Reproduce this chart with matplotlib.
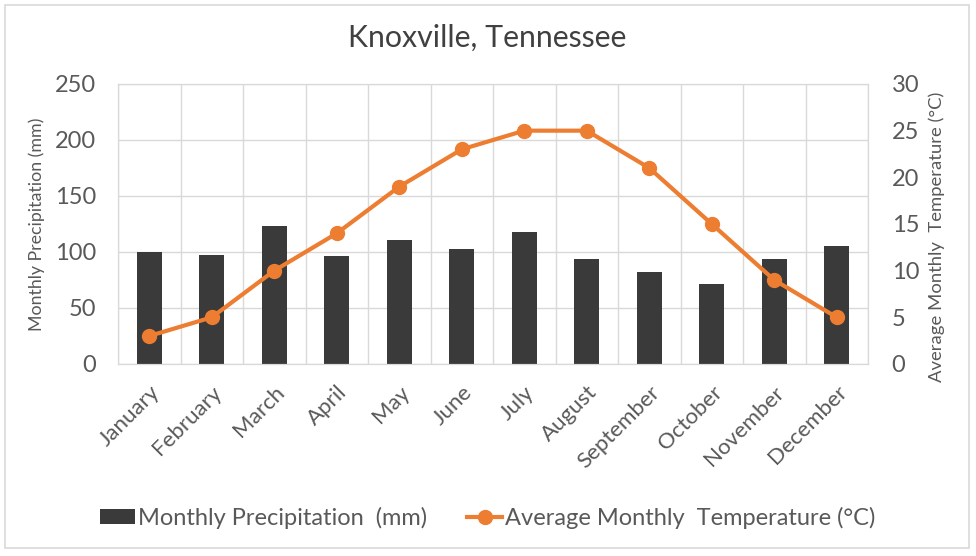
import numpy as np
import matplotlib
matplotlib.use('Agg')
from matplotlib import pyplot as plt
from matplotlib.patches import Rectangle

months = ['January', 'February', 'March', 'April', 'May', 'June', 'July',
          'August', 'September', 'October', 'November', 'December']
precip = [100, 97, 123, 96, 111, 103, 118, 94, 82, 71, 94, 105]
temp = [3, 5, 10, 14, 19, 23, 25, 25, 21, 15, 9, 5]

plt.rcParams['font.family'] = ['Lato', 'DejaVu Sans']
txt = '#595959'
grid = '#d9d9d9'
orange = '#ed7d31'
bar_col = '#3a3a3a'

fig = plt.figure(figsize=(9.76, 5.56), dpi=100)
ax = fig.add_axes([118 / 976, 1 - 364 / 556, 750 / 976, 280 / 556])
ax2 = ax.twinx()

x = np.arange(len(months))
bars = ax.bar(x, precip, width=0.4, color=bar_col, zorder=2,
              label='Monthly Precipitation  (mm)')
line, = ax2.plot(x, temp, color=orange, lw=3, marker='o', ms=10,
                 label='Average Monthly  Temperature (\u00b0C)')

ax.set_xlim(-0.5, 11.5)
ax.set_ylim(0, 250)
ax.set_yticks(range(0, 251, 50))
ax2.set_ylim(0, 30)
ax2.set_yticks(range(0, 31, 5))

ax.set_xticks(x)
ax.set_xticklabels(months, rotation=45, ha='right', rotation_mode='anchor',
                   fontsize=16, color=txt)
ax.set_xticks(np.arange(-0.5, 12, 1), minor=True)
ax.grid(True, which='minor', axis='x', color=grid, lw=1, zorder=0)
ax.grid(True, which='major', axis='y', color=grid, lw=1, zorder=0)
ax.set_axisbelow(True)

ax.tick_params(axis='both', which='both', length=0)
ax.tick_params(axis='y', labelsize=17, labelcolor=txt, pad=16)
ax.tick_params(axis='x', pad=13)
ax2.tick_params(axis='y', length=0, labelsize=17, labelcolor=txt, pad=17)

for a in (ax, ax2):
    for s in a.spines.values():
        s.set_color(grid)

ax.set_ylabel('Monthly Precipitation (mm)', fontsize=12.8, color=txt,
              va='center')
ax.yaxis.set_label_coords(-0.108, 0.5)
ax2.set_ylabel('Average Monthly  Temperature (\u00b0C)', fontsize=13.3,
               color=txt, rotation=90, va='center')
ax2.yaxis.set_label_coords(1.092, 0.455)

fig.text(487 / 976, 1 - 38 / 556, 'Knoxville, Tennessee', ha='center',
         va='center', fontsize=21.8, color='#404040')

fig.legend([bars, line], [bars.get_label(), line.get_label()], loc='center',
           bbox_to_anchor=(0.5, 1 - 518 / 556), ncol=2, frameon=False,
           fontsize=17, labelcolor=txt, handlelength=1.45, handleheight=0.6,
           handletextpad=0.15, columnspacing=1.7)

fig.patches.append(Rectangle((5 / 976, 8 / 556), 964 / 976, 543 / 556,
                             transform=fig.transFigure, fill=False,
                             edgecolor=grid, lw=1.2))

fig.savefig('out.png', dpi=100)
